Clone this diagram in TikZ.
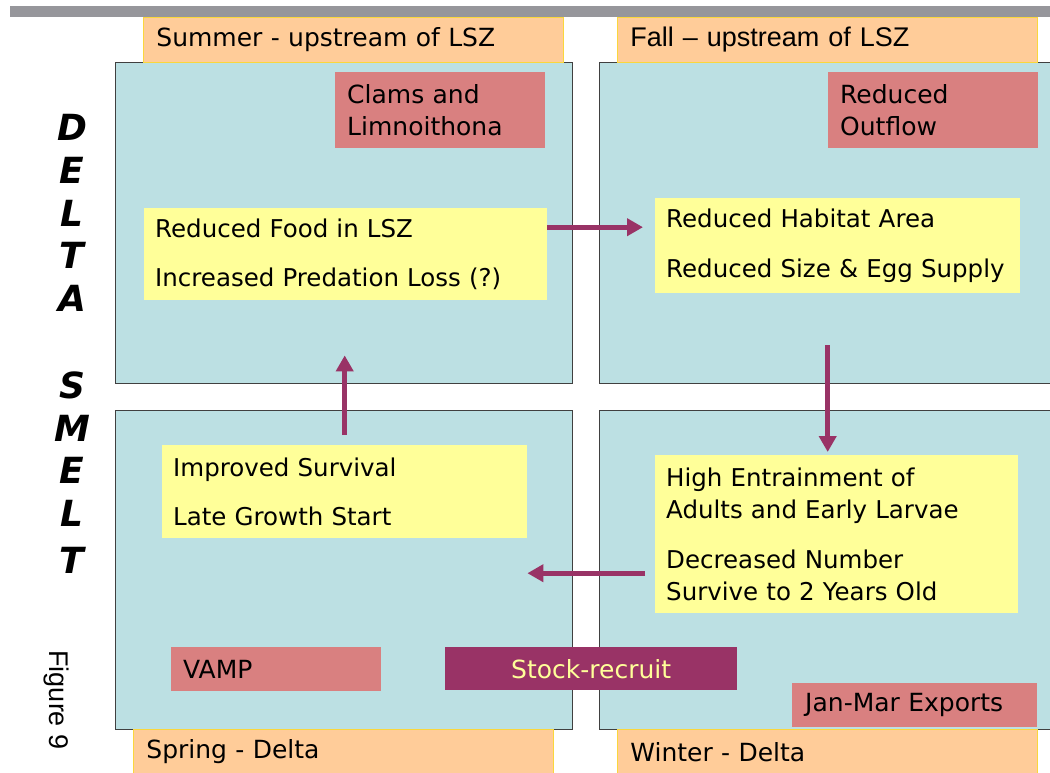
\documentclass[tikz,border=0pt]{standalone}
\usepackage{fontspec}
\setmainfont{DejaVu Sans}
\newfontfamily\arialfont{Liberation Sans}
\usepackage{tikz}
\usepackage{xcolor}
\usetikzlibrary{arrows.meta, positioning}

\definecolor{panelblue}{RGB}{188,224,227}
\definecolor{seasonorange}{RGB}{255,204,153}
\definecolor{seasonedge}{RGB}{250,215,60}
\definecolor{causepink}{RGB}{217,128,128}
\definecolor{effectyellow}{RGB}{255,255,153}
\definecolor{smeltpurple}{RGB}{153,51,102}
\definecolor{bargray}{RGB}{150,150,155}

\tikzset{
  panel/.style={draw=black!75, line width=1pt, fill=panelblue, anchor=north west, inner sep=0pt},
  season/.style={fill=seasonorange, draw=seasonedge, line width=0.8pt, anchor=north west,
    inner xsep=13pt, inner ysep=0pt, minimum height=45pt, text width=394pt, align=left,
    font=\fontsize{25}{30}\selectfont},
  cause/.style={fill=causepink, anchor=north west, inner xsep=12pt, inner ysep=0pt, align=left,
    font=\fontsize{25}{32}\selectfont},
  effect/.style={fill=effectyellow, anchor=north west, inner xsep=11pt, inner ysep=0pt, align=left,
    font=\fontsize{24.5}{32}\selectfont},
  flow/.style={draw=smeltpurple, line width=5pt, -{Triangle[length=16pt,width=17pt]}},
  smeltletter/.style={font=\fontsize{36}{36}\selectfont\bfseries\itshape}
}

\begin{document}
\begin{tikzpicture}[x=1pt, y=-1pt]
    \useasboundingbox (0,0) rectangle (1050,772);
    \fill[bargray] (10,6) rectangle (1050,17);

    % quarters of the year
    \node[panel, minimum width=457pt, minimum height=321pt] (summer) at (115,62) {};
    \node[panel, minimum width=460pt, minimum height=321pt] (fall) at (599,62) {};
    \node[panel, minimum width=457pt, minimum height=319pt] (spring) at (115,410) {};
    \node[panel, minimum width=460pt, minimum height=319pt] (winter) at (599,410) {};

    \node[season] (summerlbl) at (143,17) {Summer - upstream of LSZ};
    \node[season, font=\arialfont\fontsize{27}{30}\selectfont] (falllbl) at (617,17) {Fall – upstream of LSZ};
    \node[season] (springlbl) at (133,729) {Spring - Delta};
    \node[season] (winterlbl) at (617,729) {Winter - Delta};

    % causes
    \node[cause, text width=186pt, minimum height=76pt] (clams) at (335,72) {Clams and\\Limnoithona};
    \node[cause, text width=186pt, minimum height=76pt] (outflow) at (828,72) {Reduced\\Outflow};
    \node[cause, text width=186pt, minimum height=44pt] (vamp) at (171,647) {VAMP};
    \node[cause, inner xsep=13pt, text width=219pt, minimum height=44pt] (exports) at (792,683) {Jan-Mar Exports};
    \node[fill=smeltpurple, text=effectyellow, anchor=north west, inner sep=0pt,
          minimum width=292pt, minimum height=43pt, font=\fontsize{25}{30}\selectfont] (stock) at (445,647) {Stock-recruit};

    % effects
    \node[effect, text width=381pt, minimum height=92pt] (food) at (144,208)
        {Reduced Food in LSZ\\[17pt]Increased Predation Loss (?)};
    \node[effect, text width=343pt, minimum height=95pt] (habitat) at (655,198)
        {Reduced Habitat Area\\[18pt]Reduced Size \& Egg Supply};
    \node[effect, text width=341pt, minimum height=158pt] (entrain) at (655,455)
        {High Entrainment of\\Adults and Early Larvae\\[18pt]Decreased Number\\Survive to 2 Years Old};
    \node[effect, text width=343pt, minimum height=93pt] (improved) at (162,445)
        {Improved Survival\\[17pt]Late Growth Start};

    \draw[flow, shorten >=12pt] ([yshift=27pt]food.east) -- ([yshift=27pt]food.east -| habitat.west);
    \draw[flow, shorten <=52pt, shorten >=3pt] ([xshift=-10pt]habitat.south) -- ([xshift=-10pt]habitat.south |- entrain.north);
    \draw[flow, shorten <=10pt] ([yshift=-39pt]entrain.west) -- ([yshift=-39pt]entrain.west -| improved.east);
    \draw[flow, shorten <=10pt, shorten >=55pt] (improved.north) -- (improved.north |- food.south);

    % species name down the side
    \foreach \ch/\y in {D/127, E/170, L/213, T/255, A/298, S/385, M/428, E/470, L/513, T/560}
        \node[smeltletter] (letter\y) at (72,\y) {\ch};
    \node[rotate=-90, font=\arialfont\fontsize{27}{27}\selectfont] (figlabel) at (56,700) {Figure 9};
\end{tikzpicture}
\end{document}
